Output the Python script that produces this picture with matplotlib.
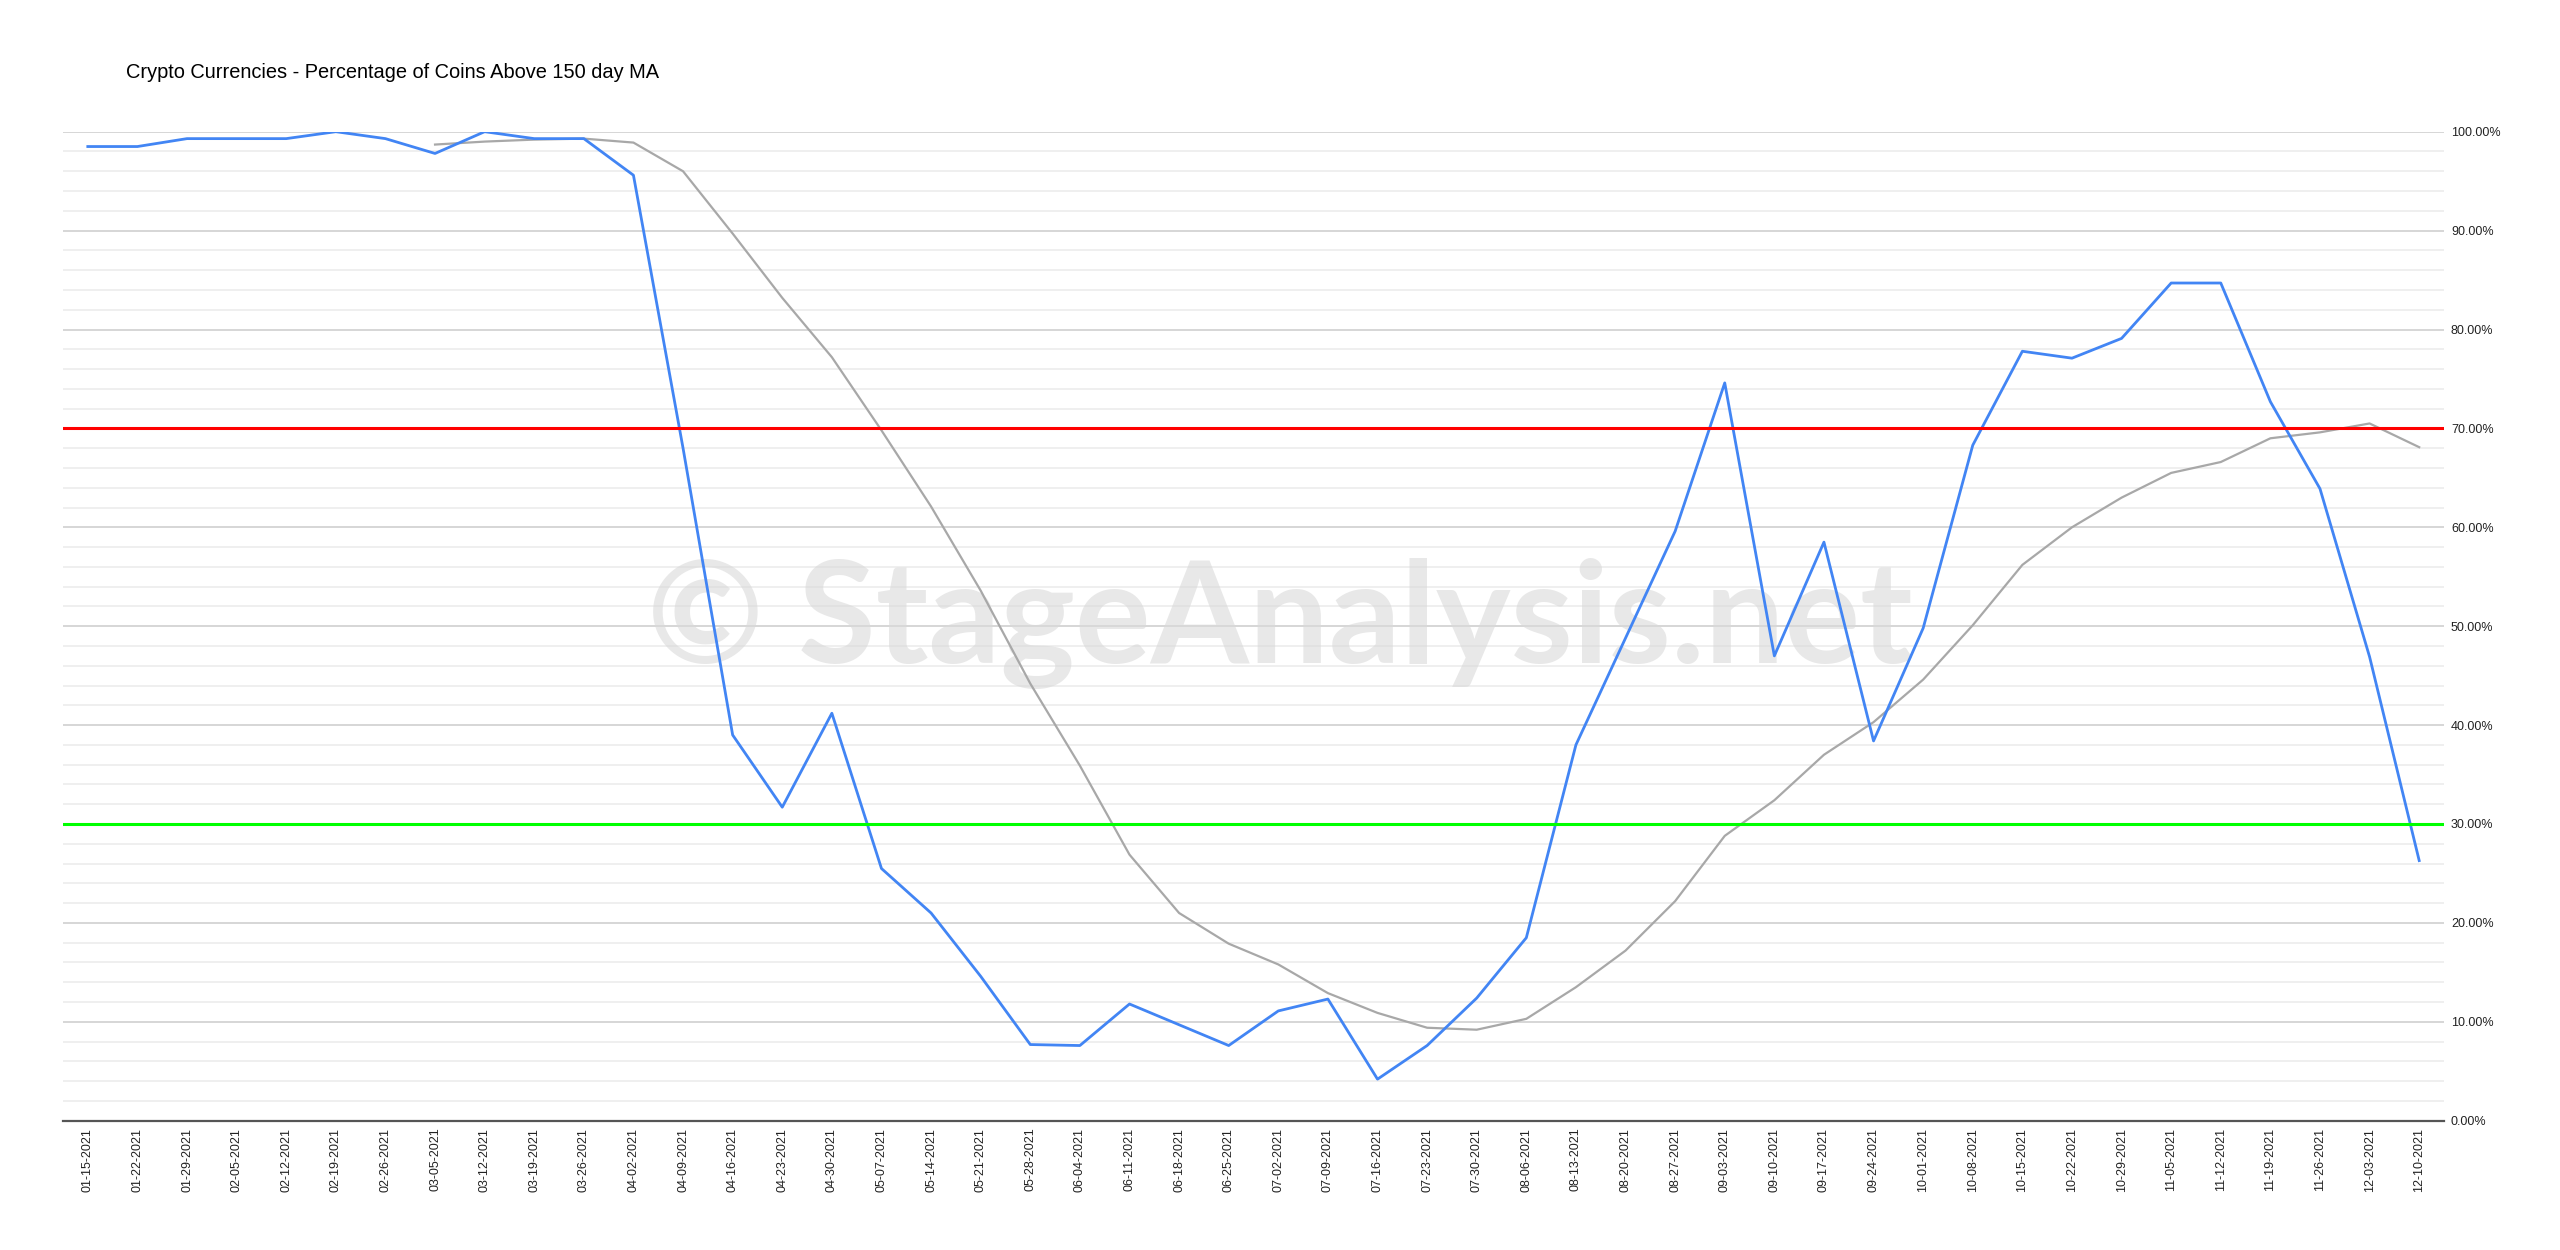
import matplotlib
matplotlib.use("Agg")
import matplotlib.pyplot as plt
from matplotlib.ticker import MultipleLocator, FuncFormatter
import numpy as np

dates = ["01-15-2021", "01-22-2021", "01-29-2021", "02-05-2021", "02-12-2021", "02-19-2021",
         "02-26-2021", "03-05-2021", "03-12-2021", "03-19-2021", "03-26-2021", "04-02-2021",
         "04-09-2021", "04-16-2021", "04-23-2021", "04-30-2021", "05-07-2021", "05-14-2021",
         "05-21-2021", "05-28-2021", "06-04-2021", "06-11-2021", "06-18-2021", "06-25-2021",
         "07-02-2021", "07-09-2021", "07-16-2021", "07-23-2021", "07-30-2021", "08-06-2021",
         "08-13-2021", "08-20-2021", "08-27-2021", "09-03-2021", "09-10-2021", "09-17-2021",
         "09-24-2021", "10-01-2021", "10-08-2021", "10-15-2021", "10-22-2021", "10-29-2021",
         "11-05-2021", "11-12-2021", "11-19-2021", "11-26-2021", "12-03-2021", "12-10-2021"]

pct_above = [98.5, 98.5, 99.3, 99.3, 99.3, 100.0, 99.3, 97.8, 100.0, 99.3, 99.3, 95.6,
             68.0, 39.0, 31.7, 41.2, 25.5, 21.0, 14.6, 7.7, 7.6, 11.8, 9.7, 7.6,
             11.1, 12.3, 4.2, 7.6, 12.4, 18.5, 38.0, 48.8, 59.6, 74.6, 47.0, 58.5,
             38.4, 49.8, 68.3, 77.8, 77.1, 79.1, 84.7, 84.7, 72.7, 63.9, 46.9, 26.3]

ma_values = [None] * 7 + [98.7, 99.0, 99.2, 99.3, 98.9, 96.0, 89.7, 83.2, 77.2, 69.8, 62.1,
             53.6, 44.2, 35.9, 26.9, 21.0, 17.9, 15.8, 12.9, 10.9, 9.4, 9.2, 10.3,
             13.5, 17.2, 22.2, 28.8, 32.4, 37.0, 40.3, 44.6, 50.1, 56.2, 60.0, 63.0,
             65.5, 66.6, 69.0, 69.6, 70.5, 68.1]

upper_level = 70
lower_level = 30
title = "Crypto Currencies - Percentage of Coins Above 150 day MA"
watermark = "© StageAnalysis.net"

W, H = 2560, 1250
fig = plt.figure(figsize=(W / 100, H / 100), dpi=100)
ax = fig.add_axes([63 / W, 1 - 1120.7 / H, (2444 - 63) / W, (1120.7 - 131.7) / H])

x = np.arange(len(dates))
ma = np.array([np.nan if v is None else v for v in ma_values], dtype=float)

ax.set_xlim(-0.5, len(dates) - 0.5)
ax.set_ylim(0, 100)

ax.yaxis.set_major_locator(MultipleLocator(10))
ax.yaxis.set_minor_locator(MultipleLocator(2))
ax.grid(which="minor", axis="y", color="#ebebeb", linewidth=1.1, zorder=0)
ax.grid(which="major", axis="y", color="#cccccc", linewidth=1.1, zorder=0)
ax.grid(which="both", axis="x", visible=False)
ax.set_axisbelow(True)

for s in ["top", "left", "right"]:
    ax.spines[s].set_visible(False)
ax.spines["bottom"].set_color("#555555")
ax.spines["bottom"].set_linewidth(1.6)
ax.spines["bottom"].set_zorder(5)

ax.yaxis.tick_right()
ax.yaxis.set_major_formatter(FuncFormatter(lambda v, p: f"{v:.2f}%"))
ax.tick_params(axis="y", which="both", length=0, pad=5, labelsize=9, labelcolor="#222222")
ax.tick_params(axis="x", length=0, pad=5, labelsize=9, labelcolor="#222222")
for lab in ax.get_yticklabels():
    lab.set_fontfamily("Liberation Sans")

ax.set_xticks(x)
ax.set_xticklabels(dates, rotation=90, fontfamily="Liberation Sans")

ax.text(0.5, 0.501, watermark, transform=fig.transFigure, ha="center", va="center",
        fontsize=102, fontfamily="Lato", fontweight="bold", color="#d9d9d9", alpha=0.6, zorder=1)

ax.plot(x, ma, color="#a8a8a8", linewidth=1.6, zorder=3)
ax.plot(x, pct_above, color="#4285f4", linewidth=2.0, zorder=4)
ax.axhline(upper_level, color="#ff0000", linewidth=2.2, zorder=4)
ax.axhline(lower_level, color="#00ff00", linewidth=2.2, zorder=4)

fig.text(126 / W, 1 - 73 / H, title, ha="left", va="center", fontsize=14.4,
         fontfamily="Liberation Sans", color="#000000")

fig.savefig("out.png", dpi=100, facecolor="white")
